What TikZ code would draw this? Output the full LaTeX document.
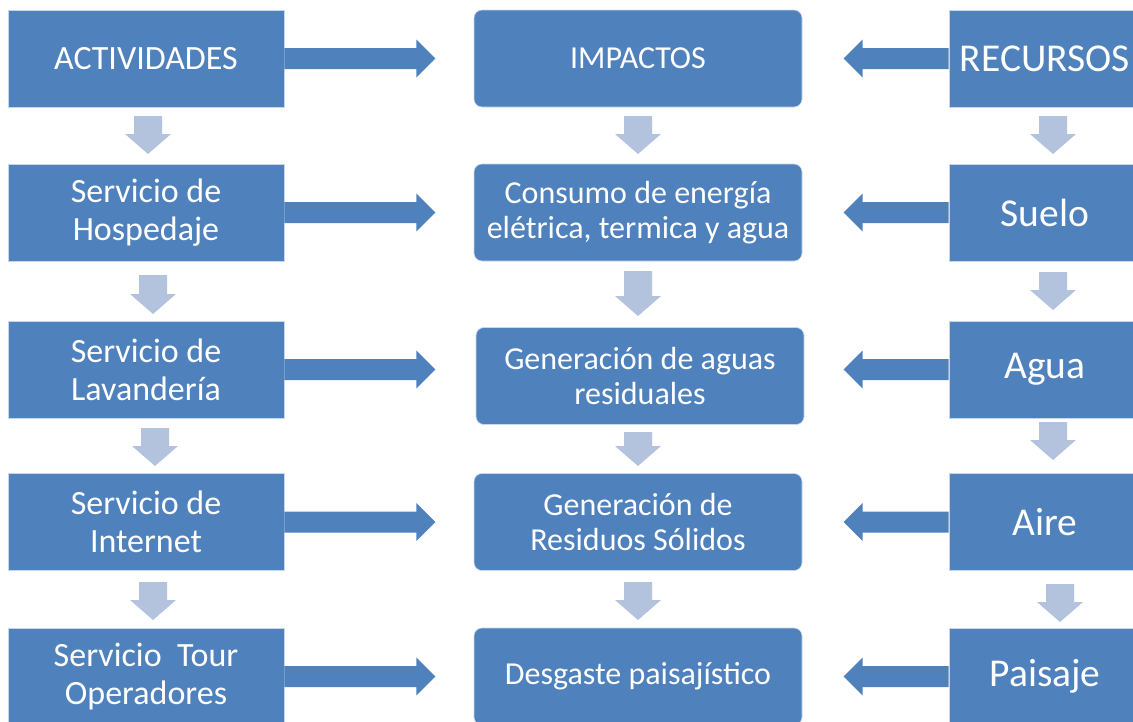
\documentclass[tikz,border=0pt]{standalone}
\usepackage{fontspec}
\setmainfont{Carlito}
\usetikzlibrary{calc}
\definecolor{boxblue}{HTML}{4F81BD}
\definecolor{lightarr}{HTML}{B3C3DE}
\definecolor{edgecol}{HTML}{C8D6EA}
\newcommand\rarr[1]{%
  \fill[boxblue] ($(#1.east)+(0,-10.5)$) -- ($(#1.east)+(132,-10.5)$) -- ($(#1.east)+(132,-19)$) -- ($(#1.east)+(151,0)$) -- ($(#1.east)+(132,19)$) -- ($(#1.east)+(132,10.5)$) -- ($(#1.east)+(0,10.5)$) -- cycle;}
\newcommand\larr[1]{%
  \fill[boxblue] ($(#1.west)+(0,-10.5)$) -- ($(#1.west)+(-86,-10.5)$) -- ($(#1.west)+(-86,-19)$) -- ($(#1.west)+(-105,0)$) -- ($(#1.west)+(-86,19)$) -- ($(#1.west)+(-86,10.5)$) -- ($(#1.west)+(0,10.5)$) -- cycle;}
\newcommand\darr[3]{%
  \fill[lightarr] ({#1-14},#2) -- ({#1+14},#2) -- ({#1+14},{#3-20}) -- ({#1+23},{#3-20}) -- (#1,#3) -- ({#1-23},{#3-20}) -- ({#1-14},{#3-20}) -- cycle;}
\begin{document}
\begin{tikzpicture}[x=1pt,y=-1pt,
  sq/.style={fill=boxblue, draw=edgecol, line width=0.6pt, minimum width=276pt, minimum height=97pt, text=white, align=center, inner sep=0pt, font=\fontsize{34}{38}\selectfont},
  mid/.style={sq, rounded corners=8pt, minimum width=328pt, font=\fontsize{32}{35}\selectfont},
  rt/.style={sq, minimum width=192pt, font=\fontsize{39.5}{44}\selectfont}]
\useasboundingbox (0,0) rectangle (1133,721);
\clip (0,0) rectangle (1133,721);
% left column
\node[sq] (L1) at (146,58.5) {ACTIVIDADES};
\node[sq] (L2) at (146,212.5) {Servicio de\\Hospedaje};
\node[sq] (L3) at (146,369.5) {Servicio de\\Lavandería};
\node[sq] (L4) at (146,522) {Servicio de\\Internet};
\node[sq] (L5) at (146,676.5) {Servicio\ \ Tour\\Operadores};
% middle column
\node[mid] (M1) at (638,58.5) {IMPACTOS};
\node[mid] (M2) at (638,212.5) {Consumo de energía\\elétrica, termica y agua};
\node[mid] (M3) at (640,376) {Generación de aguas\\residuales};
\node[mid] (M4) at (638,522) {Generación de\\Residuos Sólidos};
\node[mid] (M5) at (638,676.5) {Desgaste paisajístico};
% right column
\node[rt] (R1) at (1045,58.5) {RECURSOS};
\node[rt] (R2) at (1045,212.5) {Suelo};
\node[rt] (R3) at (1045,369.5) {Agua};
\node[rt] (R4) at (1045,522) {Aire};
\node[rt] (R5) at (1045,676.5) {Paisaje};
% horizontal block arrows
\rarr{L1}\rarr{L2}\rarr{L3}\rarr{L4}\rarr{L5}
\larr{R1}\larr{R2}\larr{R3}\larr{R4}\larr{R5}
% vertical block arrows
\darr{148}{116}{154}\darr{153}{275}{314}\darr{155}{428}{466}\darr{153}{582}{620}
\darr{638}{116}{154}\darr{638}{271}{316}\darr{638}{432}{466}\darr{638}{582}{620}
\darr{1053}{116}{154}\darr{1053}{272}{310}\darr{1053}{422}{460}\darr{1060}{584}{622}
\end{tikzpicture}
\end{document}
